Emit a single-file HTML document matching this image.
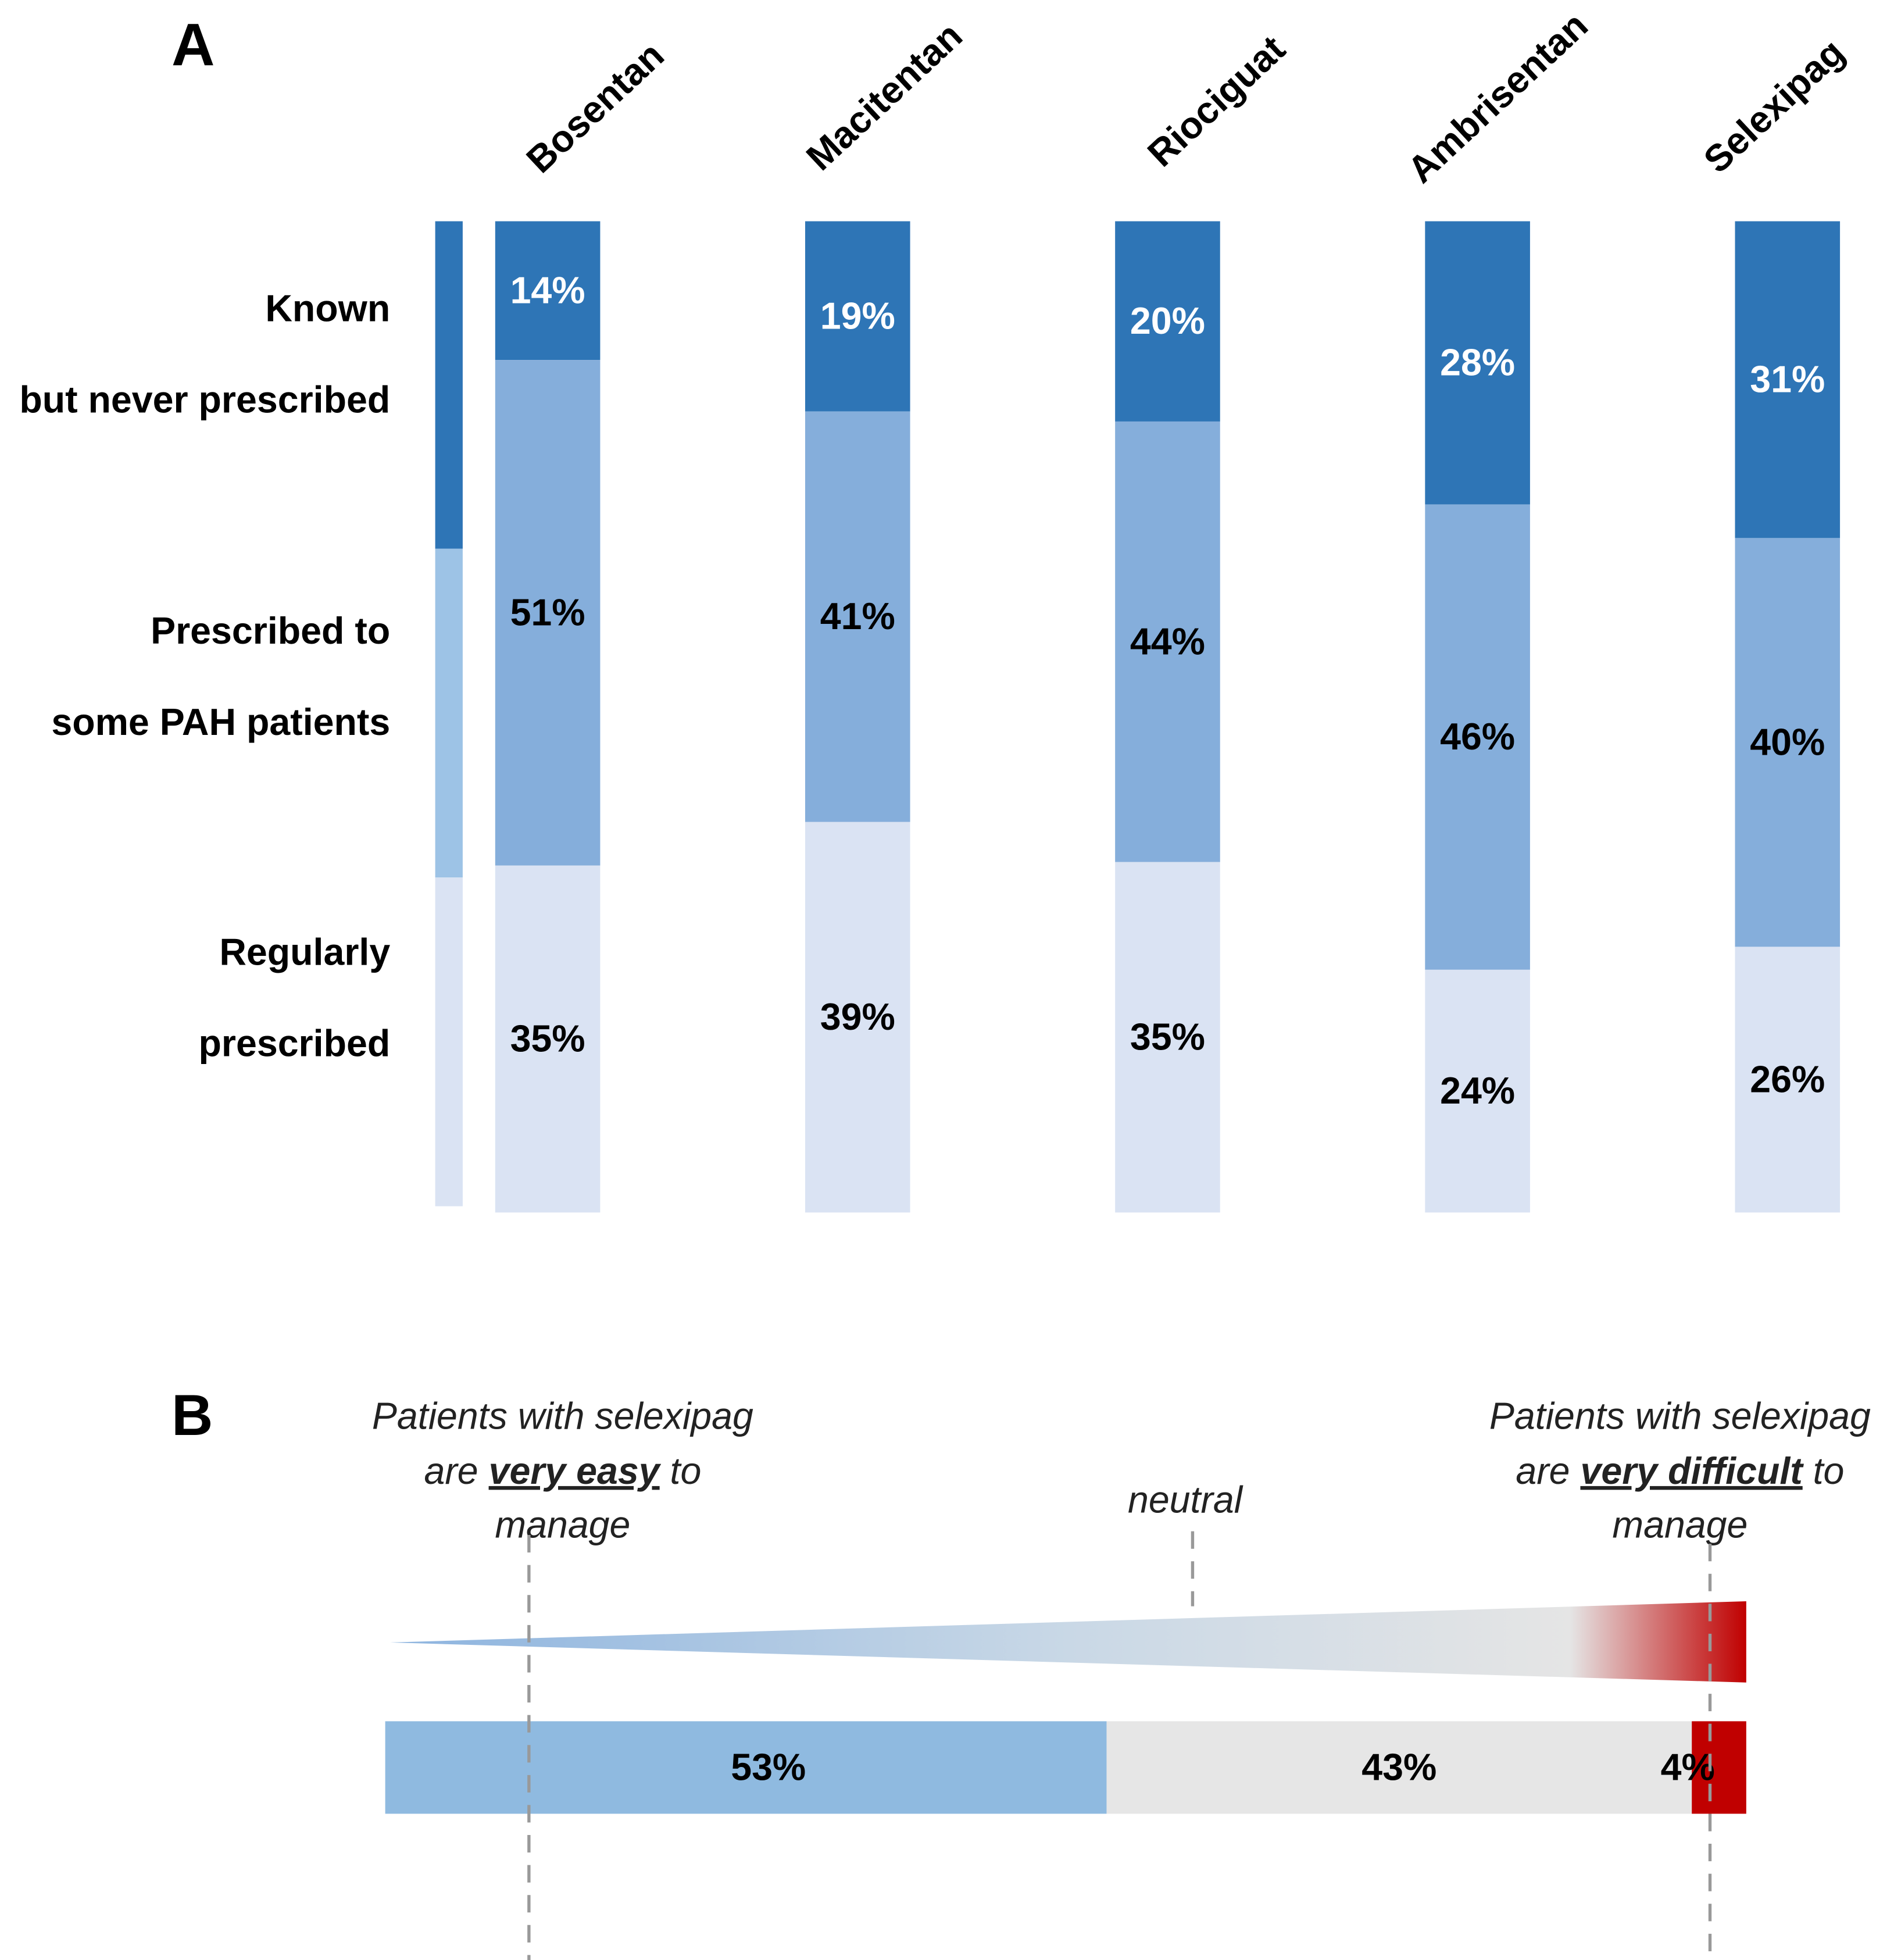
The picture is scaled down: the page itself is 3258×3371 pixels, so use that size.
<!DOCTYPE html>
<html><head><meta charset="utf-8">
<style>
html,body{margin:0;padding:0;background:#fff;}
svg{display:block;font-family:"Liberation Sans",sans-serif;}
</style></head>
<body>
<svg id="chart" width="3258" height="3371" viewBox="0 0 1515 1568" xmlns="http://www.w3.org/2000/svg">
<defs>
<linearGradient id="tri" x1="0" x2="1" y1="0" y2="0">
<stop offset="0" stop-color="#8DB4DF"/>
<stop offset="0.5" stop-color="#C9D8E6"/>
<stop offset="0.87" stop-color="#E5E5E5"/>
<stop offset="1" stop-color="#C00000"/>
</linearGradient>
</defs>
<text x="137" y="52" font-size="48" font-weight="bold">A</text>
<rect x="348" y="177" width="22" height="262" fill="#2E75B6"/>
<rect x="348" y="439" width="22" height="263" fill="#9DC3E6"/>
<rect x="348" y="702" width="22" height="263" fill="#DAE3F3"/>
<g font-size="30" font-weight="bold" text-anchor="end">
<text x="312" y="257">Known</text>
<text x="312" y="330">but never prescribed</text>
<text x="312" y="515">Prescribed to</text>
<text x="312" y="588">some PAH patients</text>
<text x="312" y="772">Regularly</text>
<text x="312" y="845">prescribed</text>
</g>
<g id="bars"></g>

<text x="137" y="1148" font-size="46" font-weight="bold">B</text>
<g font-size="30" font-style="italic" text-anchor="middle" fill="#222">
<text x="450" y="1143">Patients with selexipag</text>
<text x="450" y="1187">are <tspan font-weight="bold" text-decoration="underline">very easy</tspan> to</text>
<text x="450" y="1230">manage</text>
<text x="1344" y="1143">Patients with selexipag</text>
<text x="1344" y="1187">are <tspan font-weight="bold" text-decoration="underline">very difficult</tspan> to</text>
<text x="1344" y="1230">manage</text>
<text x="948" y="1210">neutral</text>
</g>
<polygon points="312,1314 1397,1281 1397,1346" fill="url(#tri)"/>
<g id="hbar"></g>
<g stroke="#999" stroke-width="2.5" stroke-dasharray="14,10">
<line x1="423" y1="1228" x2="423" y2="1568"/>
<line x1="954" y1="1225" x2="954" y2="1285"/>
<line x1="1368" y1="1235" x2="1368" y2="1568"/>
</g>
</svg>
<script>
const drugs = ["Bosentan","Macitentan","Riociguat","Ambrisentan","Selexipag"];
const knownNever = [14,19,20,28,31];
const someSome = [51,41,44,46,40];
const regularly = [35,39,35,24,26];
const bSegments = ["easy","neutral","difficult"];
const bValues = [53,43,4];

const NS="http://www.w3.org/2000/svg";
function mk(tag,attrs){const e=document.createElementNS(NS,tag);for(const k in attrs)e.setAttribute(k,attrs[k]);return e;}
const top0=177, barH=793, barW=84;
function yScale(p,total){return p/total*barH;}
function xBand(i){return 396+i*248;}
const g=document.getElementById('bars');
const labelOff=[[433,140],[657,138],[930,135],[1138,148],[1375,140]];
drugs.forEach((d,i)=>{
  const x=xBand(i);
  const total=knownNever[i]+someSome[i]+regularly[i];
  const segs=[[knownNever[i],"#2E75B6","#fff","known"],[someSome[i],"#85AEDB","#000","some"],[regularly[i],"#DAE3F3","#000","regular"]];
  let y=top0;
  segs.forEach(s=>{
    const h=yScale(s[0],total);
    const r=mk('rect',{x:x,y:y,width:barW,height:h,fill:s[1]});
    
    
    g.appendChild(r);
    const t=mk('text',{x:x+barW/2,y:y+h/2+10,'text-anchor':'middle','font-size':30,'font-weight':'bold',fill:s[2]});
    t.textContent=s[0]+'%';
    
    
    g.appendChild(t);
    y+=h;
  });
  const lo=labelOff[i];
  const lt=mk('text',{x:lo[0],y:lo[1],'font-size':30,'font-weight':'bold',transform:'rotate(-43 '+lo[0]+' '+lo[1]+')'});
  lt.textContent=d;
  
  
  g.appendChild(lt);
});
const hb=document.getElementById('hbar');
const bx0=308, bW=1089, by=1377, bh=74;
function xS(p){return p/100*bW;}
const bColors=["#8FBAE0","#E6E6E6","#C00000"];
let cx=bx0;
bValues.forEach((v,i)=>{
  const w=xS(v);
  const r=mk('rect',{x:cx,y:by,width:w,height:bh,fill:bColors[i]});
  
  
  hb.appendChild(r);
  const t=mk('text',{x:(i===2?cx+w/2-25:(i===0?cx+w/2+18:cx+w/2)),y:by+bh/2+10,'text-anchor':'middle','font-size':30,'font-weight':'bold',fill:'#000'});
  t.textContent=v+'%';
  
  
  hb.appendChild(t);
  cx+=w;
});
</script>
</body></html>
